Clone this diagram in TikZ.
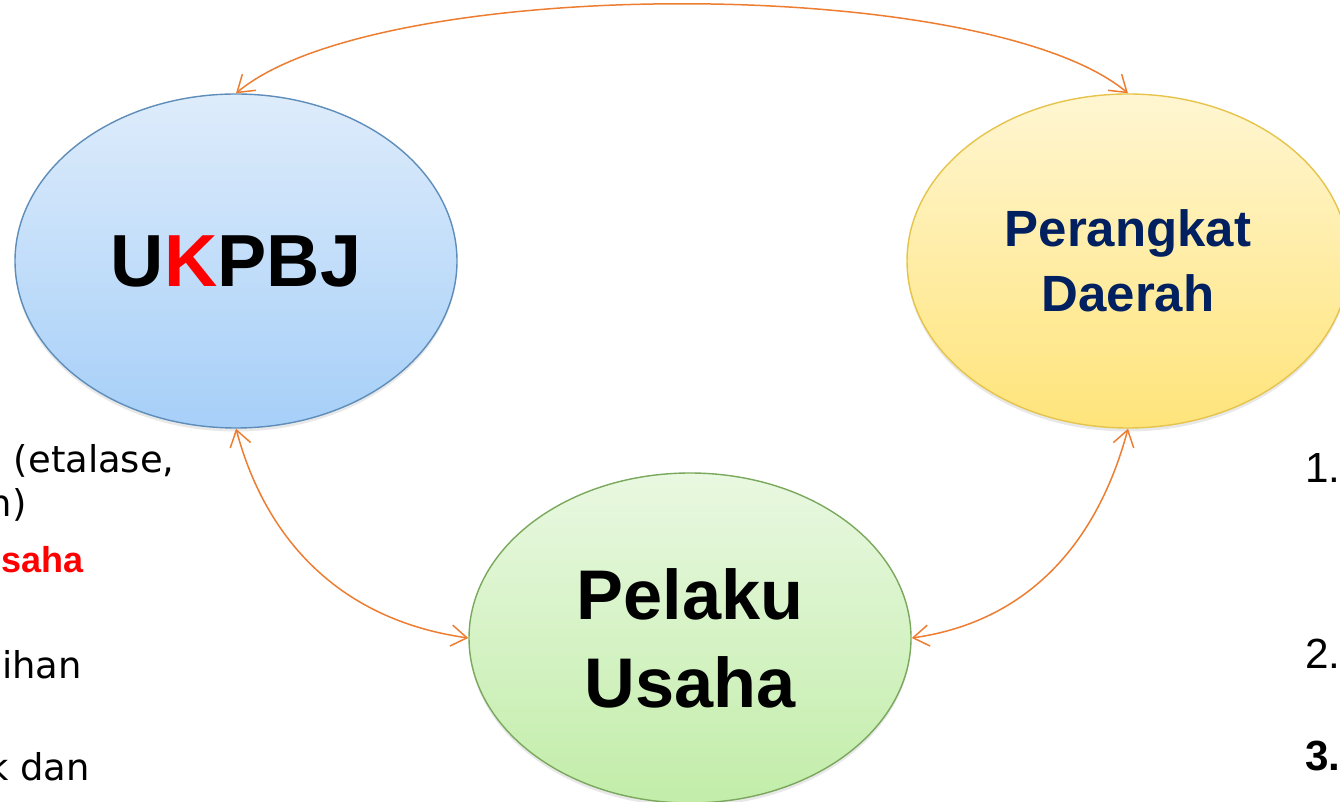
\documentclass[tikz,border=0pt]{standalone}
\usepackage{xcolor}
\usepackage{fontspec}
\setmainfont{Liberation Sans}
\newfontfamily\notefont{DejaVu Sans}
\usetikzlibrary{shapes,arrows.meta,positioning,shadows}

\definecolor{linkorange}{HTML}{ED7D31}
\definecolor{ukred}{HTML}{FF0000}
\definecolor{pdnavy}{HTML}{002060}
\definecolor{blueline}{HTML}{5E8DBA}
\definecolor{bluetop}{HTML}{DEECFB}
\definecolor{bluebot}{HTML}{A6CFF8}
\definecolor{yellowline}{HTML}{E6C44C}
\definecolor{yellowtop}{HTML}{FFF6D2}
\definecolor{yellowbot}{HTML}{FFE47A}
\definecolor{greenline}{HTML}{7AA85C}
\definecolor{greentop}{HTML}{E9F8E1}
\definecolor{greenbot}{HTML}{C2EDA9}

\tikzset{
    role/.style={ellipse, draw, line width=0.8pt, inner sep=0pt,
        minimum width=8.84cm, minimum height=6.68cm, align=center,
        drop shadow={shadow xshift=0pt, shadow yshift=-2pt, opacity=0.18}},
    link/.style={linkorange, line width=0.85pt},
    note/.style={inner sep=0pt, font=\notefont\fontsize{21}{25}\selectfont},
}

\begin{document}
\begin{tikzpicture}[>={Straight Barb[length=9pt,width=12pt]}]
    \useasboundingbox (0,0) rectangle (26.8,16.02);

    % Roles
    \node[role, draw=blueline, top color=bluetop, bottom color=bluebot,
        font=\bfseries\fontsize{42}{50}\selectfont] (ukpbj) at (4.72,10.8)
        {U\textcolor{ukred}{K}PBJ};
    \node[role, draw=yellowline, top color=yellowtop, bottom color=yellowbot,
        font=\bfseries\fontsize{29}{37}\selectfont, text=pdnavy] (pd) at (22.56,10.8)
        {Perangkat\\Daerah};
    \node[role, draw=greenline, top color=greentop, bottom color=greenbot,
        minimum height=6.6cm, font=\bfseries\fontsize{40}{50}\selectfont] (pu) at (13.8,3.26)
        {Pelaku\\Usaha};

    % Links
    \draw[link, <->] (ukpbj.north) .. controls +(40:3.7) and +(140:3.7) .. (pd.north);
    \draw[link, <->] (ukpbj.south) to[out=-75, in=172] (pu.west);
    \draw[link, <->] (pd.south) to[out=-105, in=8] (pu.east);

    % Side notes, cut by the page edge
    \node[note, anchor=base east] (n1) at (3.5,6.56) {(etalase,};
    \node[note, anchor=base east] (n2) at (0.54,5.68) {n)};
    \node[note, anchor=base east, font=\bfseries\fontsize{20.5}{25}\selectfont, text=ukred] (n3) at (1.68,4.58) {saha};
    \node[note, anchor=base east] (n4) at (1.64,2.46) {ihan};
    \node[note, anchor=base east] (n5) at (1.8,0.42) {k dan};

    \node[note, anchor=base west, font=\fontsize{24}{28}\selectfont] (k1) at (26.1,6.36) {1.};
    \node[note, anchor=base west, font=\fontsize{24}{28}\selectfont] (k2) at (26.1,2.66) {2.};
    \node[note, anchor=base west, font=\bfseries\fontsize{24}{28}\selectfont] (k3) at (26.1,0.62) {3.};
\end{tikzpicture}
\end{document}
